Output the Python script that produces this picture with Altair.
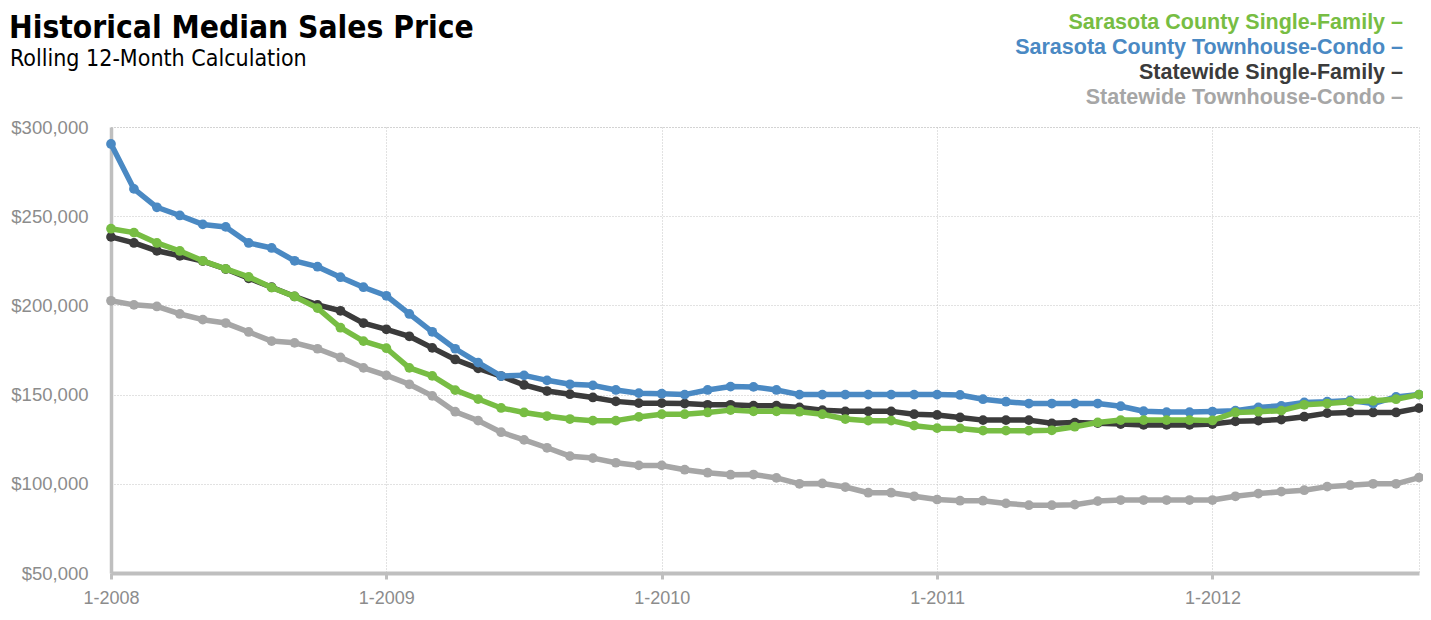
import altair as alt
import pandas as pd

# Month index 0 = Jan 2008 ... 57 = Oct 2012
months = list(range(58))
year_ticks = [0, 12, 24, 36, 48]

series_names = [
    "Sarasota County Single-Family",
    "Sarasota County Townhouse-Condo",
    "Statewide Single-Family",
    "Statewide Townhouse-Condo",
]
colors = ["#77bd43", "#4a89c3", "#3b3b3b", "#a6a6a6"]

# values in thousands of dollars
sarasota_sf = [243, 240.8, 235, 230.5, 225, 220.5, 216, 210, 205, 198.5, 187.5, 180,
               176, 165, 160.5, 152.5, 147.5, 142.5, 140, 138, 136.3, 135.4, 135.4, 137.5,
               139, 139, 140, 141.3, 140.6, 140.6, 140.4, 139, 136.3, 135.4, 135.4, 132.6,
               131.2, 131, 129.8, 129.8, 129.8, 130, 132, 134.4, 135.7, 135.7, 135.7, 135.7,
               135.5, 140, 140.4, 141, 144.3, 145, 146, 146.5, 147.4, 150]
sarasota_tc = [290.5, 265.3, 255, 250.4, 245.4, 244, 235, 232.2, 225, 221.7, 215.8, 210.2,
               205.4, 195.2, 185.2, 175.7, 167.9, 160.4, 160.8, 158, 155.8, 155.2, 152.6, 150.8,
               150.5, 150, 152.6, 154.5, 154.3, 152.6, 150, 150, 150, 150, 150, 150,
               150, 149.8, 147.4, 146, 145, 145, 145, 145, 143.5, 140.7, 140.2, 140.2,
               140.5, 141, 142.8, 143.7, 145.6, 146, 146.7, 145, 148.7, 150]
state_sf = [238.4, 235, 230.6, 227.8, 224.8, 220.4, 215.2, 210.2, 205, 200.3, 197, 190.1,
            186.6, 182.7, 176.2, 169.7, 164.7, 160.4, 155.4, 152, 150.2, 148.4, 146.2, 145.2,
            145.2, 145, 144.3, 144.3, 143.8, 143.8, 142.8, 141.3, 140.6, 140.6, 140.6, 139,
            138.6, 137.2, 135.7, 135.7, 135.7, 133.9, 134.3, 134, 133.5, 133, 133, 133,
            133.5, 135, 135.4, 136, 137.6, 139.6, 140, 140, 140, 142.4]
state_tc = [202.6, 200.3, 199.4, 195.2, 192, 190.1, 185.1, 180, 179, 175.7, 170.8, 165,
            160.8, 155.8, 149.3, 140.4, 135.4, 128.9, 124.6, 120.2, 115.5, 114.4, 111.8, 110.3,
            110.3, 107.9, 106.2, 105.1, 105.2, 103.3, 100, 100.2, 98.2, 95, 95, 93,
            91.2, 90.5, 90.5, 89, 88, 88, 88.3, 90.3, 90.9, 90.9, 90.9, 90.9,
            90.9, 93, 94.5, 95.6, 96.4, 98.4, 99.2, 100, 100, 103.5]

y_ticks = [50, 100, 150, 200, 250, 300]

FONT = "Liberation Sans"
COND = "DejaVu Sans Condensed"
AXIS_GRAY = "#bfbfbf"
GRID_GRAY = "#c4c4c4"
LABEL_GRAY = "#8c8c8c"

X = alt.X(
    "month:Q",
    scale=alt.Scale(domain=[0, 57], nice=False, zero=False),
    axis=alt.Axis(
        values=year_ticks,
        labelExpr="'1-' + (2008 + datum.value / 12)",
        title=None,
        domainColor=AXIS_GRAY, domainWidth=4,
        tickColor=AXIS_GRAY, tickWidth=3, tickSize=6,
        labelFont=FONT, labelFontSize=18, labelColor=LABEL_GRAY,
        labelPadding=10, labelFlush=False,
        grid=True, gridColor=GRID_GRAY, gridDash=[1, 2], gridWidth=1,
    ),
)
Y = alt.Y(
    "value:Q",
    scale=alt.Scale(domain=[50, 300], nice=False, zero=False),
    axis=alt.Axis(
        values=y_ticks,
        labelExpr="'$' + format(datum.value * 1000, ',')",
        title=None,
        domainColor=AXIS_GRAY, domainWidth=3.5,
        ticks=False,
        labelFont=FONT, labelFontSize=18.5, labelColor=LABEL_GRAY,
        labelPadding=23,
        grid=True, gridColor=GRID_GRAY, gridDash=[1, 2], gridWidth=1,
    ),
)

all_values = [sarasota_sf, sarasota_tc, state_sf, state_tc]
layers = []
# draw order: statewide condo, statewide SF, Sarasota condo, Sarasota SF (top)
for idx in [3, 2, 1, 0]:
    df = pd.DataFrame({"month": months, "value": all_values[idx], "series": series_names[idx]})
    base = alt.Chart(df).encode(x=X, y=Y)
    layers.append(base.mark_line(color=colors[idx], strokeWidth=5.5, strokeJoin="round"))
    layers.append(base.mark_circle(color=colors[idx], size=95, opacity=1))

title_text = "Historical Median Sales Price"
subtitle_text = "Rolling 12-Month Calculation"

layers.append(
    alt.Chart(pd.DataFrame({"t": [title_text]}))
    .mark_text(align="left", baseline="alphabetic", font=COND, fontSize=31.5,
               fontWeight="bold", color="#000000")
    .encode(text="t:N", x=alt.value(-102), y=alt.value(-89))
)
layers.append(
    alt.Chart(pd.DataFrame({"t": [subtitle_text]}))
    .mark_text(align="left", baseline="alphabetic", font=COND, fontSize=23,
               color="#000000")
    .encode(text="t:N", x=alt.value(-101), y=alt.value(-61))
)

legend_y = [-98, -73, -48, -23]
for i, name in enumerate(series_names):
    layers.append(
        alt.Chart(pd.DataFrame({"t": [name + " \u2013"]}))
        .mark_text(align="right", baseline="alphabetic", font=FONT, fontSize=21.5,
                   fontWeight="bold", color=colors[i])
        .encode(text="t:N", x=alt.value(1292), y=alt.value(legend_y[i]))
    )

chart = (
    alt.layer(*layers)
    .properties(
        width=1308,
        height=446,
        padding={"left": 103, "top": 119, "right": 4, "bottom": 33},
        autosize=alt.AutoSizeParams(type="none"),
        background="white",
    )
    .configure_view(stroke=GRID_GRAY, strokeDash=[1, 2], strokeWidth=1)
)

chart.save("out.html", embed_options={"renderer": "svg", "actions": False})
